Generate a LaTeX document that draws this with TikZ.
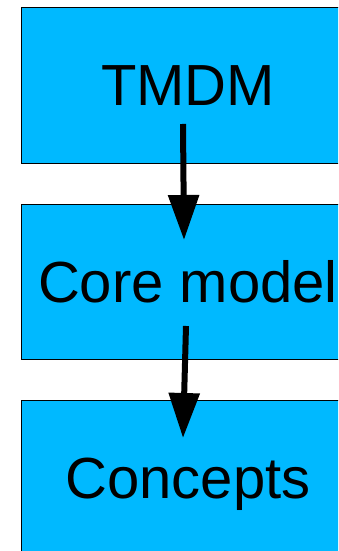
\documentclass[tikz,border=0pt]{standalone}
\usepackage{fontspec}
\setmainfont{Liberation Sans}
\usetikzlibrary{arrows.meta}
\definecolor{boxblue}{RGB}{0,185,255}
\begin{document}
\begin{tikzpicture}[x=1pt,y=1pt,
  blockbox/.style={draw=black, line width=0.8pt, fill=boxblue, rectangle,
    minimum width=334pt, minimum height=156pt, inner sep=0pt,
    font=\fontsize{58}{68}\selectfont, text height=42pt, text depth=0pt},
  flowarrow/.style={line width=6pt, -{Triangle[length=45pt,width=30pt]}}]
\useasboundingbox (0,0) rectangle (338,551);
\clip (0,0) rectangle (338,551);
\fill[white] (0,0) rectangle (338,551);
\node[blockbox] (b1) at (188,466) {TMDM};
\node[blockbox, minimum height=155pt] (b2) at (188,269.5) {Core model};
\node[blockbox] (b3) at (188,73) {Concepts};
\coordinate (a1s) at (183,427);
\coordinate (a1e) at (184,311);
\coordinate (a2s) at (186,225);
\coordinate (a2e) at (183,113);
\draw[flowarrow] (a1s) -- (a1e);
\draw[flowarrow] (a2s) -- (a2e);
\end{tikzpicture}
\end{document}
